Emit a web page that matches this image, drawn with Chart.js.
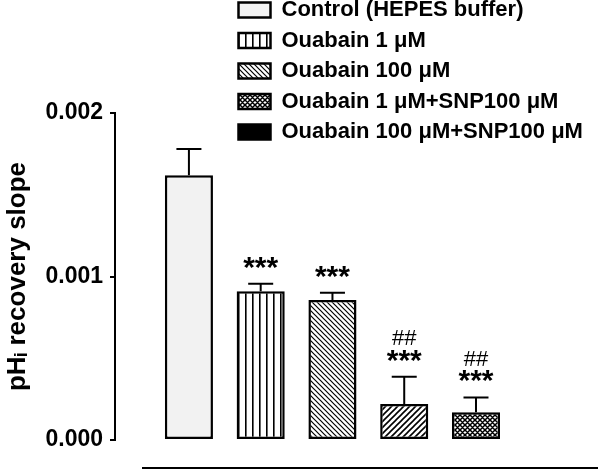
<!DOCTYPE html>
<html>
<head>
<meta charset="utf-8">
<script src="https://cdn.jsdelivr.net/npm/chart.js@4.4.1/dist/chart.umd.min.js"></script>
<style>
  html, body { margin: 0; padding: 0; background: #fff; }
  #wrap { width: 600px; height: 470px; }
</style>
</head>
<body>
<div id="wrap"><canvas id="slopeChart"></canvas></div>
<script>
const categories = ['Control (HEPES buffer)', 'Ouabain 1 μM', 'Ouabain 100 μM', 'Ouabain 1 μM+SNP100 μM', 'Ouabain 100 μM+SNP100 μM'];
const slopes = [0.00162, 0.00091, 0.000856, 0.00022, 0.00017];
const sems = [0.00016, 0.000045, 0.000045, 0.000167, 0.00009];
const stars = ['', '***', '***', '***', '***'];
const hashes = ['', '', '', '##', '##'];
const yTicks = [0, 0.001, 0.002];

const FONT = "Arial, 'Liberation Sans', sans-serif";

// small tiles used as bar fills
function makePattern(kind) {
    const c = document.createElement('canvas');
    const s = kind === 'vertical' ? 7 : kind === 'slash' ? 6 : 5;
    c.width = s; c.height = s;
    const g = c.getContext('2d');
    g.fillStyle = '#fff';
    g.fillRect(0, 0, s, s);
    g.strokeStyle = '#000';
    g.fillStyle = '#000';
    if (kind === 'vertical') {
        g.fillRect(0, 0, 1.6, s);
    } else if (kind === 'backslash') {
        g.lineWidth = 1.2;
        g.beginPath();
        g.moveTo(-1, -1); g.lineTo(s + 1, s + 1);
        g.moveTo(-1, s - 1); g.lineTo(1, s + 1);
        g.moveTo(s - 1, -1); g.lineTo(s + 1, 1);
        g.stroke();
    } else if (kind === 'slash') {
        g.lineWidth = 1.6;
        g.beginPath();
        g.moveTo(-1, s + 1); g.lineTo(s + 1, -1);
        g.moveTo(-1, 1); g.lineTo(1, -1);
        g.moveTo(s - 1, s + 1); g.lineTo(s + 1, s - 1);
        g.stroke();
    } else if (kind === 'cross') {
        g.lineWidth = 1.5;
        g.beginPath();
        g.moveTo(-1, -1); g.lineTo(s + 1, s + 1);
        g.moveTo(-1, s + 1); g.lineTo(s + 1, -1);
        g.moveTo(-1, s - 1); g.lineTo(1, s + 1);
        g.moveTo(s - 1, -1); g.lineTo(s + 1, 1);
        g.moveTo(-1, 1); g.lineTo(1, -1);
        g.moveTo(s - 1, s + 1); g.lineTo(s + 1, s - 1);
        g.stroke();
    }
    return g.createPattern(c, 'repeat');
}

const ctx = document.getElementById('slopeChart').getContext('2d');
const barFills = ['#f2f2f2', makePattern('vertical'), makePattern('backslash'), makePattern('slash'), makePattern('cross')];
const legendFills = ['#f2f2f2', makePattern('vertical'), makePattern('backslash'), makePattern('cross'), '#000'];

const errorBars = {
    id: 'errorBars',
    afterDatasetsDraw(chart) {
        const c = chart.ctx;
        const y = chart.scales.y;
        const meta = chart.getDatasetMeta(0);
        c.save();
        c.strokeStyle = '#000';
        c.lineWidth = 2;
        meta.data.forEach((bar, i) => {
            const top = y.getPixelForValue(slopes[i] + sems[i]);
            const base = y.getPixelForValue(slopes[i]);
            const half = bar.width * 0.26;
            c.beginPath();
            c.moveTo(bar.x, base);
            c.lineTo(bar.x, top);
            c.moveTo(bar.x - half, top);
            c.lineTo(bar.x + half, top);
            c.stroke();
            // significance marks
            c.fillStyle = '#000';
            c.textAlign = 'center';
            c.textBaseline = 'alphabetic';
            if (stars[i]) {
                c.font = 'bold 30px ' + FONT;
                c.fillText(stars[i], bar.x, top - 7);
            }
            if (hashes[i]) {
                c.font = '22px ' + FONT;
                c.textBaseline = 'middle';
                c.fillText(hashes[i], bar.x, top - 38);
            }
        });
        // detached baseline under the bars
        const a = chart.chartArea;
        c.lineWidth = 2;
        c.beginPath();
        c.moveTo(a.left + 27, a.bottom + 28);
        c.lineTo(a.right, a.bottom + 28);
        c.stroke();
        c.restore();
    }
};

const placeLegend = {
    id: 'placeLegend',
    afterLayout(chart) {
        const lg = chart.legend;
        const w = lg.width, h = lg.height;
        lg.left = 230;
        lg.top = -9.5;
        lg.right = lg.left + w;
        lg.bottom = lg.top + h;
    }
};

new Chart(ctx, {
    type: 'bar',
    data: {
        datasets: [{
            data: slopes.map((v, i) => ({ x: i + 1, y: v })),
            backgroundColor: barFills,
            borderColor: '#000',
            borderWidth: 2.5,
            borderSkipped: false,
            barPercentage: 0.67,
            categoryPercentage: 1
        }]
    },
    options: {
        responsive: true,
        maintainAspectRatio: false,
        animation: false,
        layout: { padding: { left: 0, top: 113, right: 2, bottom: 30 } },
        plugins: {
            tooltip: { enabled: false },
            legend: {
                position: 'chartArea',
                align: 'start',
                labels: {
                    boxWidth: 32,
                    boxHeight: 15,
                    padding: 8.5,
                    color: '#000',
                    font: { family: FONT, size: 22, weight: 'bold' },
                    generateLabels: () => categories.map((t, i) => ({
                        text: t,
                        fillStyle: legendFills[i],
                        strokeStyle: '#000',
                        lineWidth: 2.5,
                        hidden: false,
                        index: i,
                        fontColor: '#000'
                    }))
                }
            }
        },
        scales: {
            x: {
                type: 'linear',
                display: false,
                offset: false,
                min: -0.03,
                max: 6.7,
                afterBuildTicks: s => { s.ticks = categories.map((c, i) => ({ value: i + 1 })); }
            },
            y: {
                min: 0,
                max: 0.002,
                afterFit: s => { s.width = 115; },
                afterBuildTicks: s => { s.ticks = yTicks.map(v => ({ value: v })); },
                border: { color: '#000', width: 2 },
                grid: { drawOnChartArea: false, drawTicks: true, tickLength: 5, color: '#000', lineWidth: 2 },
                ticks: {
                    padding: 7,
                    color: '#000',
                    font: { family: FONT, size: 23, weight: 'bold' },
                    callback: v => v.toFixed(3)
                },
                title: {
                    display: true,
                    text: 'pHᵢ recovery slope',
                    color: '#000',
                    font: { family: FONT, size: 26, weight: 'bold' },
                    padding: { top: 2, bottom: 4 }
                }
            }
        }
    },
    plugins: [errorBars, placeLegend]
});
</script>
</body>
</html>
